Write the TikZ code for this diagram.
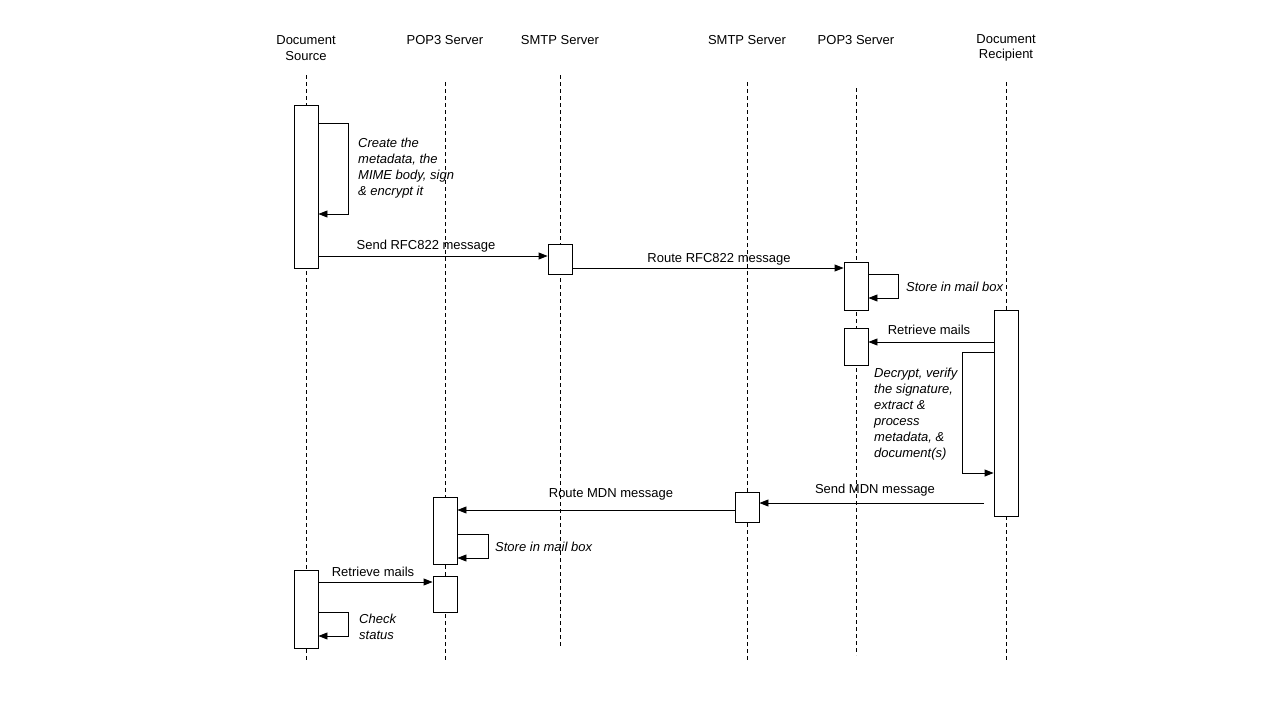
\documentclass[tikz,border=0pt]{standalone}
\usepackage{fontspec}
\setmainfont{Liberation Sans}
\usetikzlibrary{arrows.meta}
\begin{document}
\begin{tikzpicture}[x=1pt,y=-1pt,
  every node/.style={font=\fontsize{13}{15.5}\selectfont, inner sep=0pt},
  head/.style={align=center},
  life/.style={dash pattern=on 4pt off 3pt, line width=0.8pt},
  act/.style={draw, fill=white, line width=0.9pt, minimum width=24pt},
  msg/.style={line width=0.9pt, -{Triangle[length=9pt,width=7pt]}},
  lbl/.style={anchor=base},
  note/.style={font=\fontsize{13}{16}\selectfont\itshape, align=left, anchor=north west}]
\useasboundingbox (0,0) rectangle (1280,720);

% headers
\node[head] (hSrc) at (306,48) {Document\\Source};
\node[head] (hPopL) at (445,40) {POP3 Server};
\node[head] (hSmtpL) at (560,40) {SMTP Server};
\node[head] (hSmtpR) at (747,40) {SMTP Server};
\node[head] (hPopR) at (856,40) {POP3 Server};
\node[head] (hRec) at (1006,48) {Document\\Recipient};

% lifelines
\coordinate (srcT) at (306,75);  \coordinate (srcB) at (306,660);
\coordinate (popLT) at (445,82); \coordinate (popLB) at (445,660);
\coordinate (smtpLT) at (560,75); \coordinate (smtpLB) at (560,646);
\coordinate (smtpRT) at (747,82); \coordinate (smtpRB) at (747,660);
\coordinate (popRT) at (856,88); \coordinate (popRB) at (856,655);
\coordinate (recT) at (1006,82); \coordinate (recB) at (1006,660);
\draw[life] (srcT) -- (srcB);
\draw[life] (popLT) -- (popLB);
\draw[life] (smtpLT) -- (smtpLB);
\draw[life] (smtpRT) -- (smtpRB);
\draw[life] (popRT) -- (popRB);
\draw[life] (recT) -- (recB);

% activation boxes
\node[act, minimum height=163pt] (s1) at (306,186.5) {};
\node[act, minimum height=30pt] (m1) at (560,259) {};
\node[act, minimum height=48pt] (p1) at (856,286) {};
\node[act, minimum height=37pt] (p2) at (856,346.5) {};
\node[act, minimum height=206pt] (r1) at (1006,413) {};
\node[act, minimum height=30pt] (m2) at (747,507) {};
\node[act, minimum height=67pt] (q1) at (445,530.5) {};
\node[act, minimum height=36pt] (q2) at (445,594) {};
\node[act, minimum height=78pt] (s2) at (306,609) {};

% messages
\draw[msg] (s1.east |- 0,123) -| (348,214) -- (s1.east |- 0,214);
\node[note] (n1) at (358,138) {Create the\\metadata, the\\MIME body, sign\\\& encrypt it};

\draw[msg] (s1.east |- 0,256) -- (m1.west |- 0,256);
\node[lbl] (l1) at (426,249) {Send RFC822 message};

\draw[msg] (m1.east |- 0,268) -- (p1.west |- 0,268);
\node[lbl] (l2) at (719,262) {Route RFC822 message};

\draw[msg] (p1.east |- 0,274) -| (898,298) -- (p1.east |- 0,298);
\node[lbl, anchor=base west] (l3) at (906,291) {\itshape Store in mail box};

\draw[msg] (r1.west |- 0,342) -- (p2.east |- 0,342);
\node[lbl] (l4) at (929,334) {Retrieve mails};

\draw[msg] (r1.west |- 0,352) -| (962,473) -- (r1.west |- 0,473);
\node[note] (n2) at (874,368) {Decrypt, verify\\the signature,\\extract \&\\process\\metadata, \&\\document(s)};

\coordinate (mdnStart) at (984,503);
\draw[msg] (mdnStart) -- (m2.east |- 0,503);
\node[lbl] (l5) at (875,493) {Send MDN message};

\draw[msg] (m2.west |- 0,510) -- (q1.east |- 0,510);
\node[lbl] (l6) at (611,497) {Route MDN message};

\draw[msg] (q1.east |- 0,534) -| (488,558) -- (q1.east |- 0,558);
\node[lbl, anchor=base west] (l7) at (495,551) {\itshape Store in mail box};

\draw[msg] (s2.east |- 0,582) -- (q2.west |- 0,582);
\node[lbl] (l8) at (373,576) {Retrieve mails};

\draw[msg] (s2.east |- 0,612) -| (348,636) -- (s2.east |- 0,636);
\node[note] (n3) at (359,614) {Check\\status};
\end{tikzpicture}
\end{document}
